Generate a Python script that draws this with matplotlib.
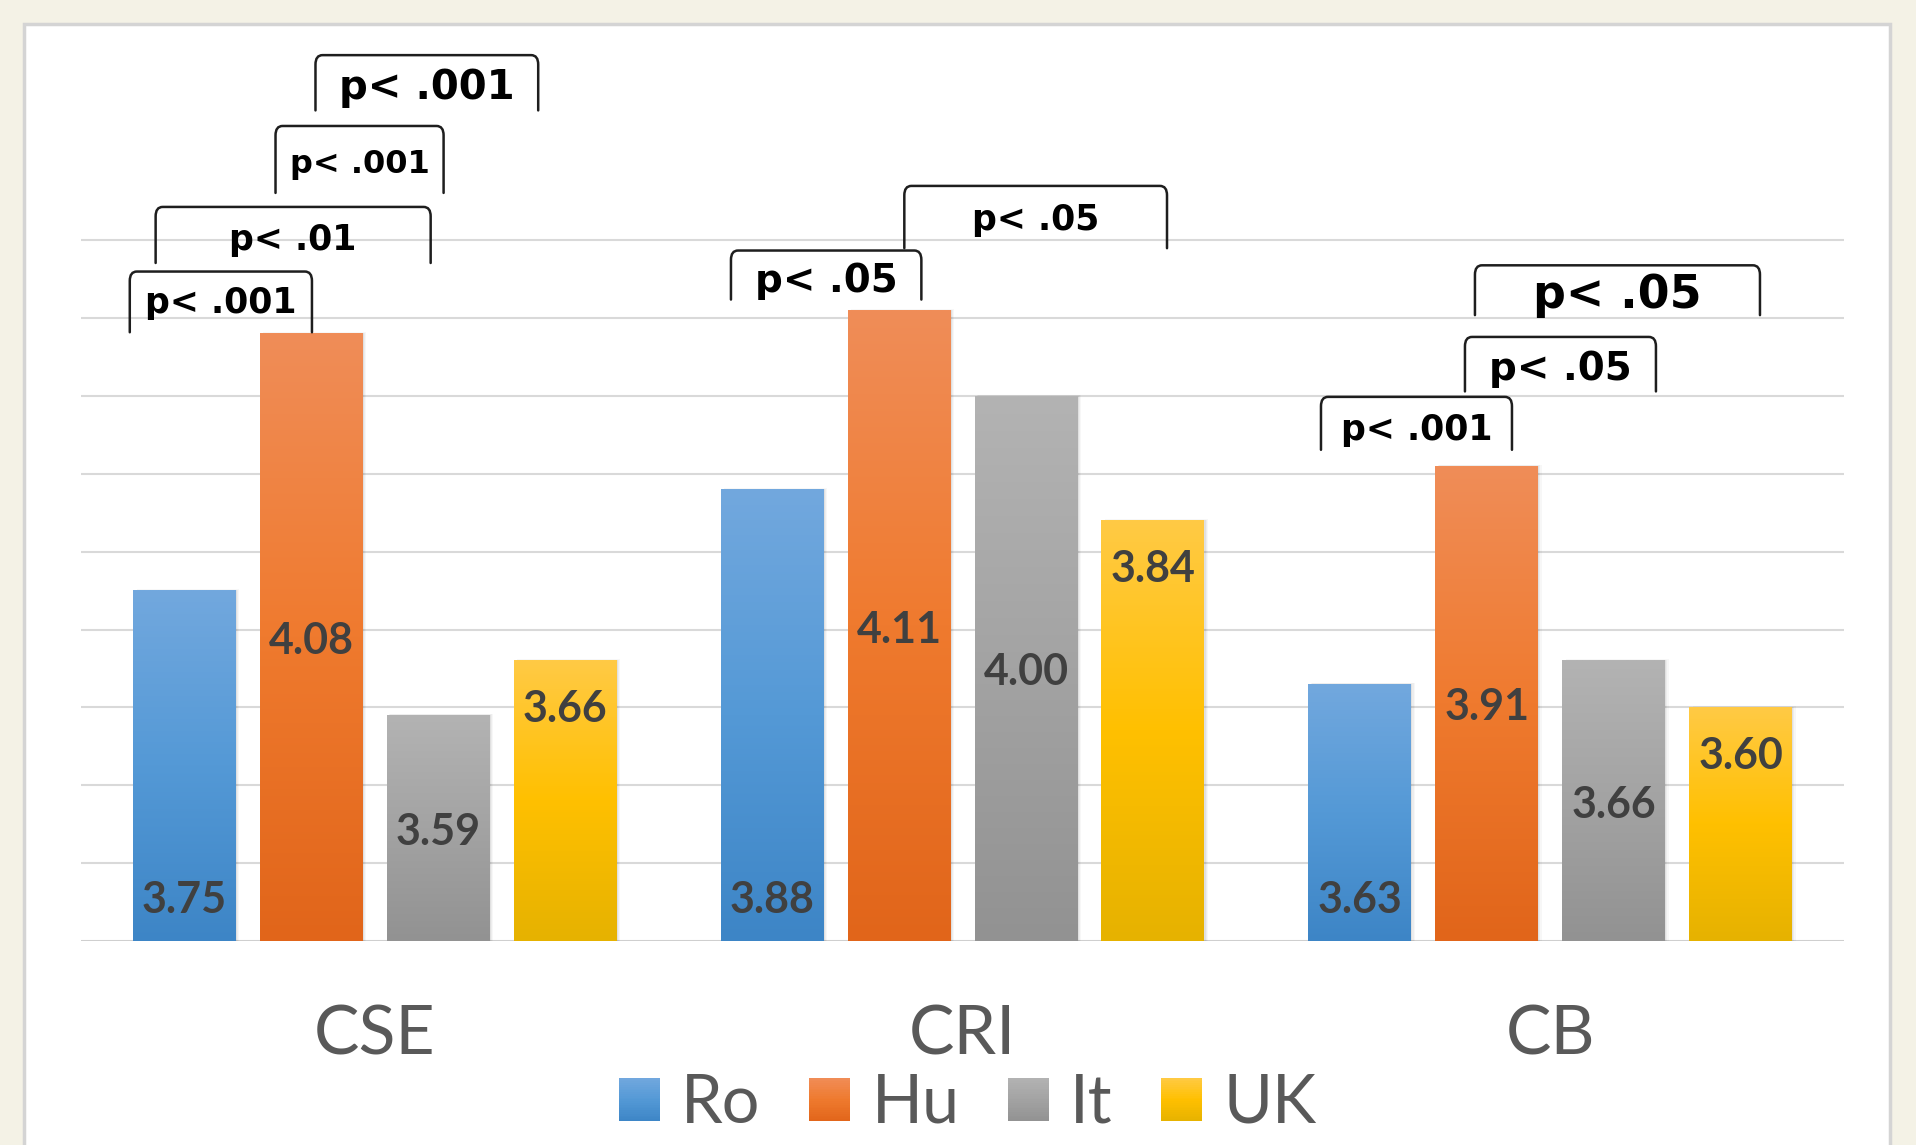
import numpy as np
import matplotlib
matplotlib.use("Agg")
import matplotlib.pyplot as plt
from matplotlib.colors import LinearSegmentedColormap
from matplotlib.patches import Rectangle, Patch, PathPatch
from matplotlib.path import Path
from matplotlib.legend_handler import HandlerBase

# datos del grafico
categorias = ["CSE", "CRI", "CB"]
paises = ["Ro", "Hu", "It", "UK"]
ro = [3.75, 3.88, 3.63]
hu = [4.08, 4.11, 3.91]
it = [3.59, 4.00, 3.66]
uk = [3.66, 3.84, 3.60]
series = [ro, hu, it, uk]

# colores degradados (abajo, medio, arriba)
grad = [("#3d85c6", "#5499d6", "#72a8de"),
        ("#e1651a", "#ef7a2e", "#f08d58"),
        ("#929292", "#a3a3a3", "#b3b3b3"),
        ("#e6b200", "#ffc000", "#ffca45")]

# anotaciones de significancia: (izq, der, arriba, abajo, y_texto, texto, tam)
brackets = [(-0.417, -0.107, 4.160, 4.082, 4.119, "p< .001", 25),
            (-0.373, 0.095, 4.243, 4.171, 4.200, "p< .01", 25),
            (-0.169, 0.117, 4.347, 4.261, 4.297, "p< .001", 23),
            (-0.101, 0.278, 4.438, 4.367, 4.396, "p< .001", 29),
            (0.606, 0.930, 4.187, 4.124, 4.148, "p< .05", 28),
            (0.901, 1.348, 4.270, 4.190, 4.226, "p< .05", 25),
            (1.610, 1.935, 3.999, 3.931, 3.956, "p< .001", 25),
            (1.855, 2.180, 4.076, 4.006, 4.035, "p< .05", 28),
            (1.872, 2.357, 4.168, 4.104, 4.129, "p< .05", 33)]

base = 3.3
plt.rcParams['font.family'] = ['Lato', 'DejaVu Sans']

cmaps = [LinearSegmentedColormap.from_list("c%d" % i, grad[i]) for i in range(4)]


class Degradado(HandlerBase):
    # cuadro de leyenda con degradado vertical
    def __init__(self, cmap):
        super().__init__()
        self.cmap = cmap

    def create_artists(self, legend, orig_handle, xdescent, ydescent,
                       width, height, fontsize, trans):
        n = 24
        arts = []
        for k in range(n):
            arts.append(Rectangle((-xdescent, -ydescent + k * height / n), width,
                                  height / n * 1.1, facecolor=self.cmap((k + 0.5) / n),
                                  lw=0, transform=trans))
        return arts


fig = plt.figure(figsize=(19.16, 11.45), dpi=100)
fig.patch.set_facecolor("#f4f2e6")
marco = Rectangle((24 / 1916, -0.02), (1890 - 24) / 1916, 1.02 - 24 / 1145,
                  transform=fig.transFigure, facecolor="white",
                  edgecolor="#d4d4d4", lw=2.5, zorder=-5)
fig.patches.append(marco)

ax = fig.add_axes([81 / 1916, 204 / 1145, (1844 - 81) / 1916, (1121 - 204) / 1145])
ax.set_zorder(1)
ax.set_facecolor("none")

ancho = 0.175
paso = 0.216
x = np.arange(len(categorias))
g = np.linspace(0, 1, 256).reshape(-1, 1)

for i, vals in enumerate(series):
    for j, v in enumerate(vals):
        xc = x[j] + (i - 1.5) * paso
        x0, x1 = xc - ancho / 2, xc + ancho / 2
        # sombra suave
        for k, a in enumerate([0.05, 0.04, 0.03]):
            d = 0.002 * (k + 1)
            ax.add_patch(Rectangle((x0 + d, base), ancho, v - base + d * 0.3,
                                   facecolor="black", alpha=a, lw=0, zorder=2))
        ax.imshow(g, cmap=cmaps[i], origin="lower", aspect="auto",
                  extent=(x0, x1, base, v), zorder=3)
        # etiquetas
        if i == 0:
            ty = base + 0.053
        elif i == 3:
            ty = v - 0.062
        else:
            ty = (base + v) / 2 - 0.005
        ax.text(xc, ty, "%.2f" % v, ha="center", va="center", fontsize=31,
                fontweight="bold", color="#404040", zorder=4)

ax.set_xlim(-0.5, 2.5)
ax.set_ylim(base, 4.478)

rx, ry = 0.012, 0.012
for (l, r, t, b, ty, txt, fs) in brackets:
    verts = [(l, b), (l, t - ry), (l, t), (l + rx, t), (r - rx, t), (r, t), (r, t - ry), (r, b)]
    codes = [Path.MOVETO, Path.LINETO, Path.CURVE3, Path.CURVE3, Path.LINETO,
             Path.CURVE3, Path.CURVE3, Path.LINETO]
    ax.add_patch(PathPatch(Path(verts, codes), facecolor="none", edgecolor="#1e1e1e",
                           lw=1.8, capstyle="round", zorder=5, clip_on=False))
    ax.text((l + r) / 2, ty, txt, ha="center", va="center", fontsize=fs,
            fontweight="bold", color="black", family="DejaVu Sans", zorder=5)

ax.set_yticks(np.round(np.arange(3.4, 4.21, 0.1), 2))
ax.yaxis.grid(True, color="#d9d9d9", lw=1.5)
ax.set_axisbelow(True)
ax.axhline(base, color="#cfcfcf", lw=2.2, zorder=1)
ax.tick_params(left=False, labelleft=False, bottom=False)
ax.set_xticks(x, categorias)
ax.tick_params(axis="x", labelsize=49, labelcolor="#595959", pad=42)
for s in ax.spines.values():
    s.set_visible(False)

handles = [Patch(facecolor="none", edgecolor="none") for _ in paises]
fig.legend(handles, paises, loc="center", bbox_to_anchor=(0.505, 0.036), ncol=4,
           frameon=False, fontsize=48, labelcolor="#595959",
           handlelength=0.62, handleheight=0.62, handletextpad=0.32,
           columnspacing=0.72, borderpad=0,
           handler_map={h: Degradado(cmaps[i]) for i, h in enumerate(handles)})

fig.savefig("out.png", dpi=100, facecolor=fig.get_facecolor())
